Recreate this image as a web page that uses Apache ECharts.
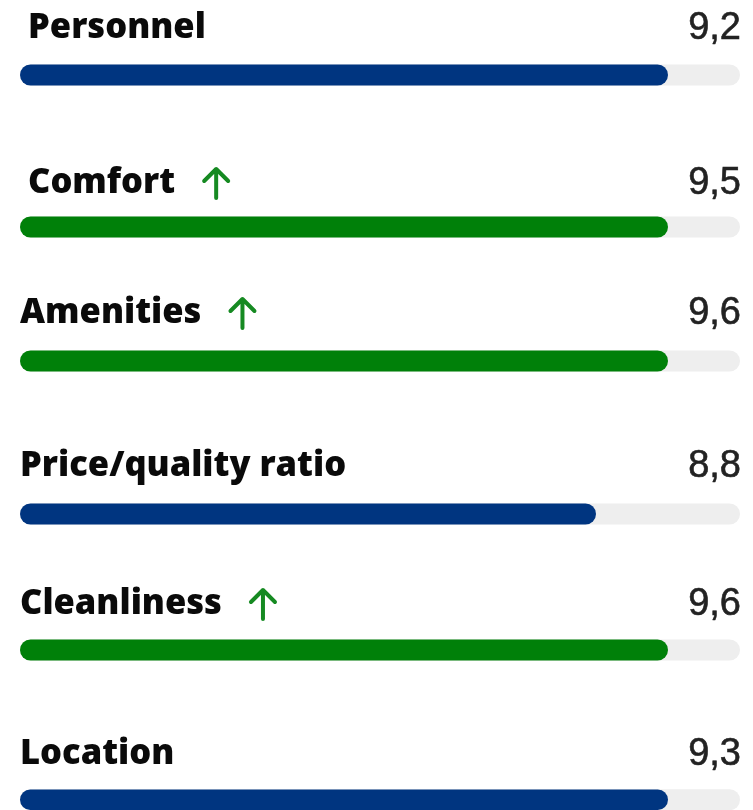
<!DOCTYPE html>
<html>

<head>
  <meta charset="utf-8">
  <title>Review scores</title>
  <script src="https://cdn.jsdelivr.net/npm/echarts@6/dist/echarts.min.js"></script>
  <style>
    html, body { margin: 0; padding: 0; background: #fff; }
  </style>
</head>

<body>
  <div id="main" style="width: 753px;height:810px;"></div>
  <script type="text/javascript">
    // data
    var categories = ['Personnel', 'Comfort', 'Amenities', 'Price/quality ratio', 'Cleanliness', 'Location'];
    var scores = [9.2, 9.5, 9.6, 8.8, 9.6, 9.3];
    var fillPercent = [90, 90, 90, 80, 90, 90]; // how far each bar is filled
    var improved = [false, true, true, false, true, false];

    // layout of each row (pixels)
    var barY = [75, 227, 361, 514, 650, 800];
    var textY = [25, 180, 310, 463, 601, 751];
    var labelX = [28, 28, 20, 20, 20, 20];

    var BLUE = '#003580';
    var GREEN = '#008009';

    // green up arrow drawn as a small svg
    var arrowSvg = 'data:image/svg+xml;charset=utf-8,' + encodeURIComponent(
      '<svg xmlns="http://www.w3.org/2000/svg" width="30" height="34" viewBox="0 0 30 34">' +
      '<path d="M15 32 V3 M3 15 L15 3 L27 15" fill="none" stroke="#168a22" ' +
      'stroke-width="4" stroke-linecap="round" stroke-linejoin="round"/></svg>');

    var myChart = echarts.init(document.getElementById('main'));

    var grids = [], xAxes = [], yAxes = [], series = [], graphics = [];

    categories.forEach(function (name, i) {
      grids.push({ left: 20, width: 720, top: barY[i] - 10.5, height: 21 });
      xAxes.push({ gridIndex: i, type: 'value', min: 0, max: 100, show: false });
      yAxes.push({ gridIndex: i, type: 'category', data: [name], show: false });
      series.push({
        type: 'bar',
        xAxisIndex: i,
        yAxisIndex: i,
        barWidth: 21,
        data: [fillPercent[i]],
        itemStyle: { color: improved[i] ? GREEN : BLUE, borderRadius: 10.5 },
        showBackground: true,
        backgroundStyle: { color: '#eeeeee', borderRadius: 10.5 },
        silent: true
      });

      graphics.push({
        type: 'text',
        x: labelX[i],
        y: textY[i] + 3,
        style: {
          text: '{l|' + name + '}' + (improved[i] ? '{g|}{a|}' : ''),
          verticalAlign: 'middle',
          rich: {
            l: { font: '800 34.5px "Open Sans"', fill: '#0a0a0a' },
            g: { width: 26, height: 34 },
            a: { width: 30, height: 34, backgroundColor: { image: arrowSvg } }
          }
        }
      });
      graphics.push({
        type: 'text',
        x: 741,
        y: textY[i] + 4,
        style: {
          text: scores[i].toFixed(1).replace('.', ','),
          align: 'right',
          verticalAlign: 'middle',
          font: '38px "Liberation Sans"',
          fill: '#222',
          stroke: '#222',
          lineWidth: 0.6
        }
      });
    });

    var option = {
      animation: false,
      grid: grids,
      xAxis: xAxes,
      yAxis: yAxes,
      series: series,
      graphic: graphics
    };

    myChart.setOption(option);
  </script>
</body>

</html>
